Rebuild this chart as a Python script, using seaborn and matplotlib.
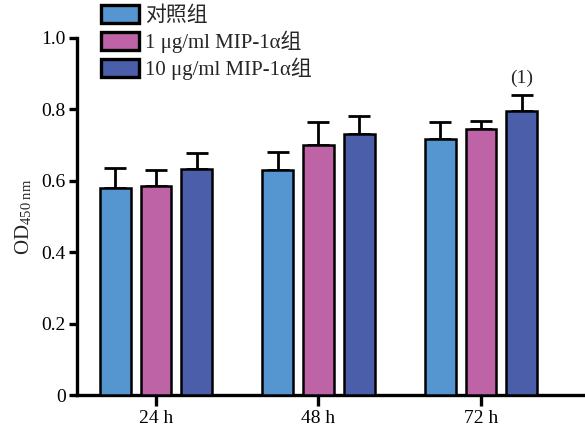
import matplotlib
matplotlib.use("Agg")
import matplotlib.pyplot as plt
import seaborn as sns
import pandas as pd
import numpy as np
from matplotlib.patches import Patch

times = ["24 h", "48 h", "72 h"]
groups = ["对照组", "1 μg/ml MIP-1α组", "10 μg/ml MIP-1α组"]
means_ctrl = [0.581, 0.629, 0.716]
means_1 = [0.586, 0.700, 0.744]
means_10 = [0.632, 0.731, 0.796]
err_ctrl = [0.054, 0.053, 0.050]
err_1 = [0.044, 0.065, 0.024]
err_10 = [0.045, 0.050, 0.043]
colors = ["#5596D0", "#BE64A6", "#4A5EAA"]

rows = []
for g, m, e in zip(groups, [means_ctrl, means_1, means_10], [err_ctrl, err_1, err_10]):
    for t, mv, ev in zip(times, m, e):
        rows.append({"time": t, "group": g, "od": mv, "err": ev})
df = pd.DataFrame(rows)

sns.set_theme(style="ticks")
plt.rcParams['font.family'] = ['Liberation Serif', 'Noto Sans CJK SC']
plt.rcParams['mathtext.fontset'] = 'stix'

fig = plt.figure(figsize=(5.85, 4.36), dpi=100)
ax = fig.add_axes([77/585, 1-395/436, 1-77/585, (395-38)/436])

sns.barplot(data=df, x="time", y="od", hue="group", order=times, hue_order=groups,
            palette=colors, saturation=1, width=0.75, gap=0.24, errorbar=None, ax=ax,
            edgecolor="black", linewidth=1.8, legend=False, zorder=3)

# error bars (upper only) on each bar
for gi, g in enumerate(groups):
    sub = df[df.group == g].set_index("time").loc[times]
    cont = ax.containers[gi]
    xs = [p.get_x() + p.get_width()/2 for p in cont.patches]
    ax.errorbar(xs, sub["od"].values, yerr=[np.zeros(len(xs)), sub["err"].values],
                fmt="none", ecolor="black", elinewidth=2.0, capsize=8, capthick=2.0, zorder=2)

ax.set_xlim(-0.486, 2.64)
ax.set_ylim(0, 1.0)
ax.set_yticks([0, 0.2, 0.4, 0.6, 0.8, 1.0])
ax.set_yticklabels(["0", "0.2", "0.4", "0.6", "0.8", "1.0"])
ax.set_xlabel("")
ax.set_ylabel(r"OD$_{\mathregular{450\ nm}}$", fontsize=15, labelpad=5)
for s in ["top", "right"]:
    ax.spines[s].set_visible(False)
for s in ["left", "bottom"]:
    ax.spines[s].set_linewidth(2.4)
    ax.spines[s].set_color("black")
ax.tick_params(axis="y", length=6, width=2.4, labelsize=14, pad=2, colors="black")
ax.tick_params(axis="x", length=8, width=2.4, labelsize=14, pad=3, colors="black")

# annotation above 72 h, 10 µg bar
cont = ax.containers[2]
p = cont.patches[2]
ax.text(p.get_x() + p.get_width()/2, means_10[2] + err_10[2] + 0.025, "(1)",
        ha="center", va="bottom", fontsize=14)

handles = [Patch(facecolor=c, edgecolor="black", linewidth=2.4) for c in colors]
fig.legend(handles, groups, loc="upper left", bbox_to_anchor=(90/585, 1.015),
           frameon=False, fontsize=15, handlelength=1.8, handleheight=0.95,
           labelspacing=0.22, handletextpad=0.3, borderaxespad=0.15)

fig.savefig("out.png", dpi=100)
